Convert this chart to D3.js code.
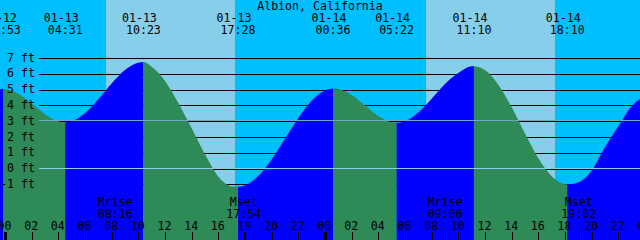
<!DOCTYPE html>
<html>
<head>
<meta charset="utf-8">
<script src="https://cdn.jsdelivr.net/npm/d3@7"></script>
<style>
  body { margin: 0; background: #00bfff; }
  text { font-family: "DejaVu Sans Mono", monospace; font-size: 11.6px; fill: #000; }
</style>
</head>
<body>
<div id="chart"></div>
<script>
// all times are hours counted from 01-13 00:00
const title = "Albion, California";

// water level (hour, feet)
const tideHours = [-0.5, -0.12, 0, 1, 2, 3, 4, 4.52, 5, 6, 7, 8, 9, 10, 10.38, 11, 12, 13, 14, 15, 16, 17, 17.47,
  18, 19, 20, 21, 22, 23, 24, 24.6, 25, 26, 27, 28, 29, 29.37, 30, 31, 32, 33, 34, 35, 35.17,
  36, 37, 38, 39, 40, 41, 42, 42.17, 43, 44, 45, 46, 47, 48];
const tideFeet = [5.0, 5.03, 5.02, 4.74, 4.12, 3.44, 2.99, 2.93, 2.99, 3.5, 4.38, 5.39, 6.24, 6.7, 6.74, 6.45, 5.55, 4.15, 2.55, 0.9, -0.5, -1.12, -1.15,
  -1.07, -0.48, 0.57, 1.88, 3.2, 4.29, 4.94, 5.07, 5.04, 4.66, 3.99, 3.32, 2.93, 2.9, 3.0, 3.55, 4.42, 5.36, 6.05, 6.47, 6.48,
  6.24, 5.31, 3.88, 2.21, 0.65, -0.49, -0.99, -1.0, -0.88, -0.12, 1.35, 2.68, 3.95, 4.6];

// high / low tide events
const eventHours = [-0.12, 4.52, 10.38, 17.47, 24.6, 29.37, 35.17, 42.17];
const eventKinds = ["H", "L", "H", "L", "H", "L", "H", "L"];
const eventDates = ["01-12", "01-13", "01-13", "01-13", "01-14", "01-14", "01-14", "01-14"];
const eventTimes = ["23:53", "04:31", "10:23", "17:28", "00:36", "05:22", "11:10", "18:10"];

// moon rise / set
const moonHours = [8.27, 17.9, 33.0, 43.03];
const moonNames = ["Mrise", "Mset", "Mrise", "Mset"];
const moonTimes = ["08:16", "17:54", "09:00", "19:02"];

// daylight
const sunRise = [7.58, 31.58];
const sunSet = [17.25, 41.25];

const feetTicks = [-1, 0, 1, 2, 3, 4, 5, 6, 7];
const meanLevel = 3.05;
const hourTicks = [0, 2, 4, 6, 8, 10, 12, 14, 16, 18, 20, 22, 24, 26, 28, 30, 32, 34, 36, 38, 40, 42, 44, 46, 48];

const W = 640, H = 240;
const x = d3.scaleLinear().domain([0, 48]).range([5, 645]);
const y = d3.scaleLinear().domain([-1, 7]).range([184.3, 58]);

const svg = d3.select("#chart").append("svg").attr("width", W).attr("height", H);

// night sky, then day bands
svg.append("rect").attr("width", W).attr("height", H).attr("fill", "#00bfff");
svg.selectAll(".day").data(sunRise).join("rect")
  .attr("class", "day")
  .attr("x", (d) => x(d))
  .attr("width", (d, i) => x(sunSet[i]) - x(d))
  .attr("y", 0).attr("height", H)
  .attr("fill", "#87ceeb");

// foot grid, sits behind the water
svg.append("g").attr("transform", "translate(39,0)")
  .call(d3.axisLeft(y).tickValues(feetTicks).tickSize(-(W - 39)).tickFormat(""))
  .call((g) => g.select(".domain").remove())
  .selectAll("line").attr("stroke", "#000").attr("shape-rendering", "crispEdges");

// water: blue while rising, green while falling
const tide = tideHours.map((h, i) => [h, tideFeet[i]]);
const area = d3.area()
  .curve(d3.curveMonotoneX)
  .x((d) => x(d[0]))
  .y0(H)
  .y1((d) => y(d[1]));

const bounds = [-2, ...eventHours, 50];
const defs = svg.append("defs");
bounds.slice(0, -1).forEach((b, i) => {
  const rising = i < eventKinds.length ? eventKinds[i] === "H" : eventKinds[eventKinds.length - 1] === "L";
  defs.append("clipPath").attr("id", "seg" + i)
    .append("rect")
    .attr("x", x(b)).attr("width", x(bounds[i + 1]) - x(b))
    .attr("y", 0).attr("height", H);
  svg.append("path")
    .datum(tide)
    .attr("d", area)
    .attr("clip-path", `url(#seg${i})`)
    .attr("fill", rising ? "#0000ff" : "#2e8b57");
});

// datum and mean level lines over the water
svg.append("line")
  .attr("x1", 39).attr("x2", W)
  .attr("y1", y(0)).attr("y2", y(0))
  .attr("stroke", "#87ceeb").attr("shape-rendering", "crispEdges");
svg.append("line")
  .attr("x1", 39).attr("x2", W)
  .attr("y1", y(meanLevel)).attr("y2", y(meanLevel))
  .attr("stroke", "#6fa6c6").attr("shape-rendering", "crispEdges");

// foot labels
svg.append("g").attr("transform", "translate(39,0)")
  .call(d3.axisLeft(y).tickValues(feetTicks).tickSize(0).tickPadding(4).tickFormat((d) => d + " ft"))
  .call((g) => g.select(".domain").remove())
  .selectAll("text").attr("dy", "0.27em");

// title
svg.append("text").attr("x", 320).attr("y", 10).attr("text-anchor", "middle").text(title);

// tide event labels
svg.selectAll(".evDate").data(eventHours).join("text")
  .attr("class", "evDate")
  .attr("x", (d) => x(d) - 4).attr("y", 22)
  .attr("text-anchor", "middle")
  .text((d, i) => eventDates[i]);
svg.selectAll(".evTime").data(eventHours).join("text")
  .attr("class", "evTime")
  .attr("x", (d) => x(d)).attr("y", 34)
  .attr("text-anchor", "middle")
  .text((d, i) => eventTimes[i]);

// moon labels
svg.selectAll(".moonName").data(moonHours).join("text")
  .attr("class", "moonName")
  .attr("x", (d) => x(d)).attr("y", 206)
  .attr("text-anchor", "middle")
  .text((d, i) => moonNames[i]);
svg.selectAll(".moonTime").data(moonHours).join("text")
  .attr("class", "moonTime")
  .attr("x", (d) => x(d)).attr("y", 218)
  .attr("text-anchor", "middle")
  .text((d, i) => moonTimes[i]);

// hour axis along the bottom
svg.append("g").attr("transform", `translate(0,${H})`)
  .call(d3.axisTop(x).tickValues(hourTicks).tickSize(8).tickPadding(2).tickFormat((d) => d3.format("02d")(d % 24)))
  .call((g) => g.select(".domain").remove())
  .call((g) => g.selectAll("text").attr("x", -1))
  .selectAll("line")
  .attr("stroke", "#000")
  .attr("stroke-width", (d) => (d % 24 === 0 ? 3 : 1))
  .attr("shape-rendering", "crispEdges");

// moon event ticks
svg.append("g").attr("transform", `translate(0,${H})`)
  .call(d3.axisTop(x).tickValues(moonHours).tickSize(8).tickFormat(""))
  .call((g) => g.select(".domain").remove())
  .selectAll("line").attr("stroke", "#000").attr("shape-rendering", "crispEdges");
</script>
</body>
</html>
